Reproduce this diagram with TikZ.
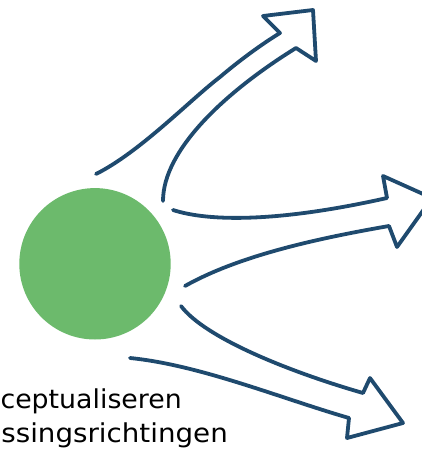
\documentclass[tikz,border=0pt]{standalone}
\usepackage{fontspec}
\setmainfont{DejaVu Sans}
\definecolor{ink}{HTML}{1F4A6E}
\definecolor{leaf}{HTML}{6CBA6C}
\begin{document}
\begin{tikzpicture}[x=1pt,y=-1pt,
  sketch/.style={draw=ink,line width=3.8pt,line cap=round,line join=round},
  caption/.style={font=\fontsize{26}{34}\selectfont,inner sep=0pt,text=black}]
\useasboundingbox (0,0) rectangle (421,457);

% central idea
\fill[leaf] (95,263.8) circle (75.7);
\node[circle,minimum size=151.4pt,inner sep=0pt] (idea) at (95,263.8) {};

% upward arrow
\draw[sketch] (96,174) .. controls (140,152) and (190,100) .. (220,77)
  .. controls (240,60) and (262,44) .. (280,33)
  -- (263,16) -- (313,10) -- (316,61) -- (296,48)
  .. controls (225,92) and (163,150) .. (163,201);

% straight-ahead arrow
\draw[sketch] (173,210) .. controls (210,222) and (280,222) .. (387,198)
  -- (383,176) -- (432,198) -- (397,247) -- (389,226)
  .. controls (320,238) and (240,255) .. (185,286);

% downward arrow
\draw[sketch] (181,306) .. controls (205,338) and (290,372) .. (363,393)
  -- (370,378) -- (403,423) -- (347,438) -- (349,418)
  .. controls (280,398) and (200,365) .. (130,358);

% caption
\node[caption,anchor=base east] (cap1) at (182,408) {\scalebox{1.03}[1]{ceptualiseren}};
\node[caption,anchor=base east] (cap2) at (228,442.5) {\scalebox{1.066}[1]{ssingsrichtingen}};
\end{tikzpicture}
\end{document}
